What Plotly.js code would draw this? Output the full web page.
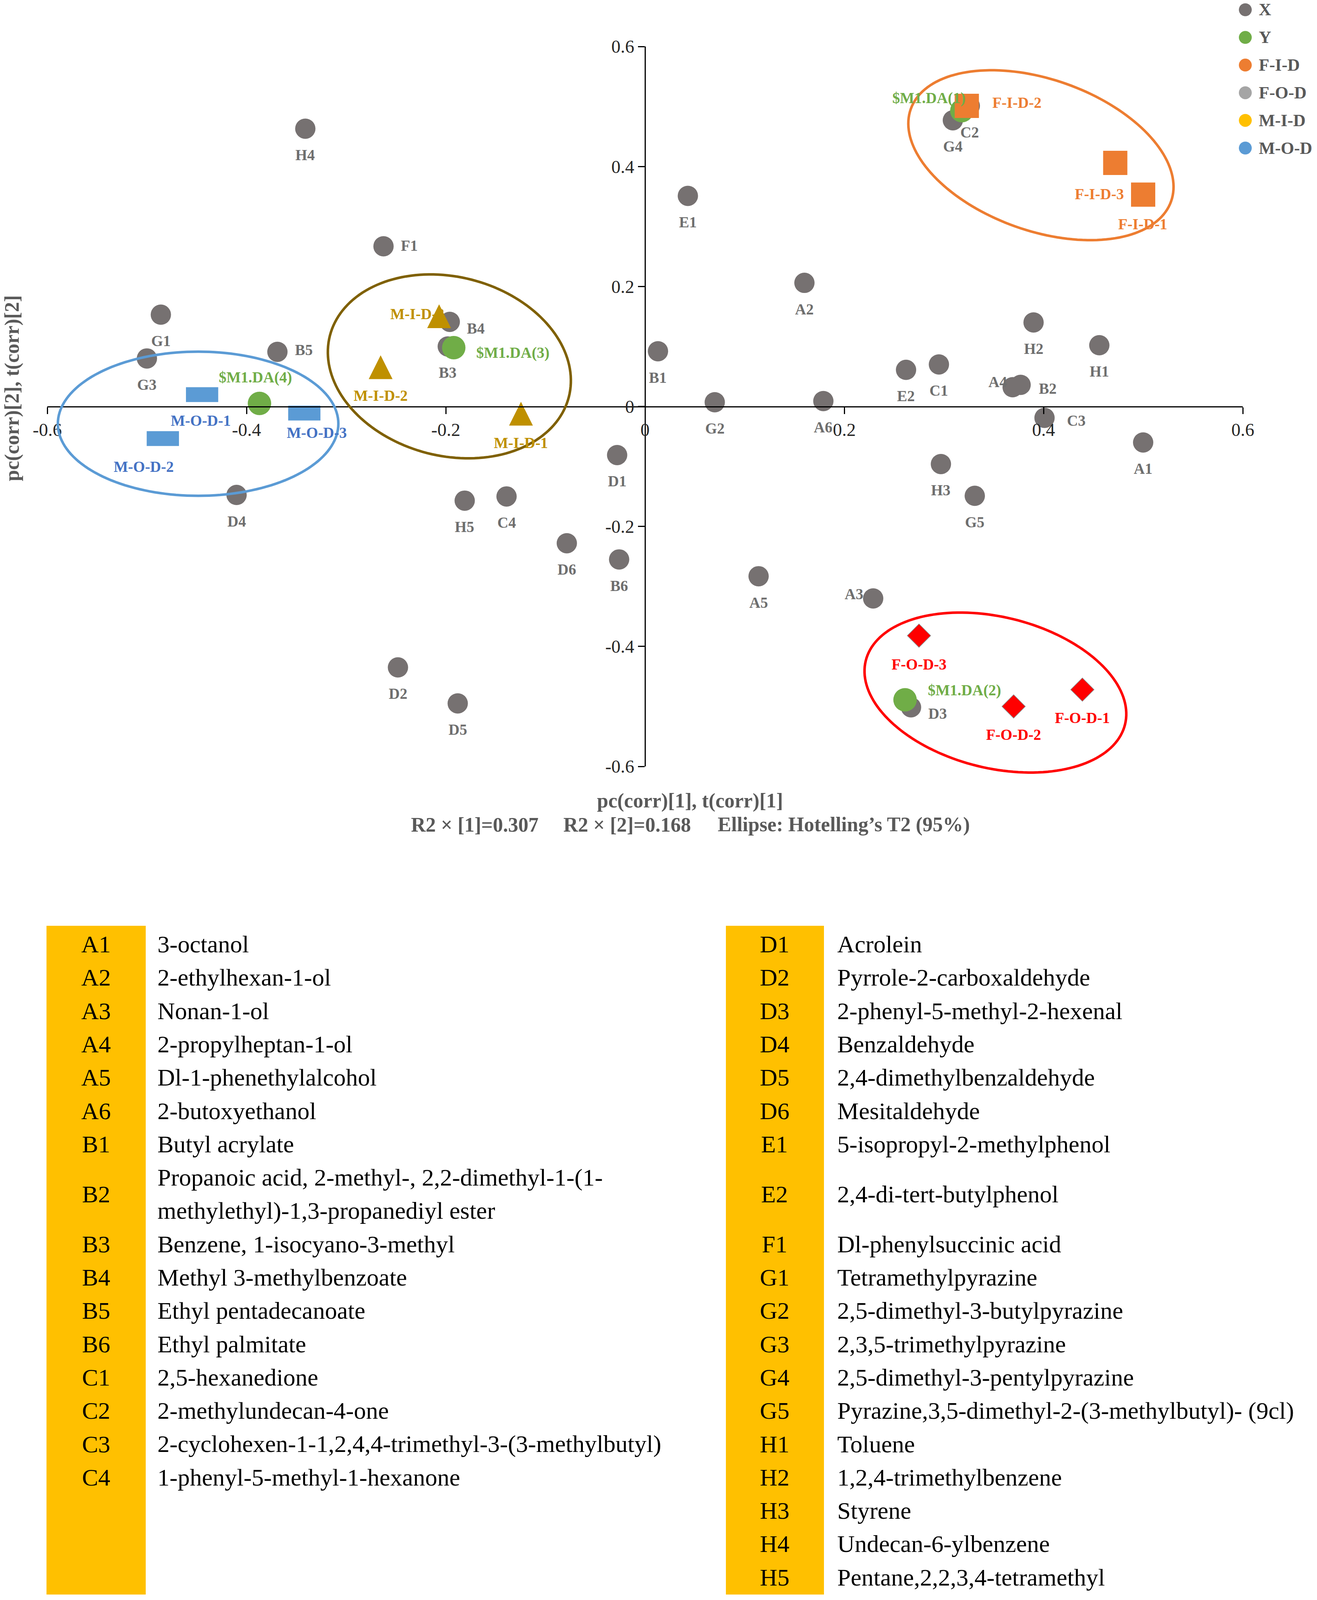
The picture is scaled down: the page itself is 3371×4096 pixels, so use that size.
<!DOCTYPE html>
<html>
<head>
<meta charset="utf-8">
<script src="https://cdn.plot.ly/plotly-3.0.1.min.js"></script>
<style>
html,body{margin:0;padding:0;background:#ffffff;overflow:hidden;}
#chart{width:3371px;height:4096px;}
</style>
</head>
<body>
<div id="chart"></div>
<script>
// ================= DATA =================
// X: compound loadings pc(corr)[1], pc(corr)[2]
const compoundCodes = ['A1','A2','A3','A4','A5','A6','B1','B2','B3','B4','B5','B6','C1','C2','C3','C4',
  'D1','D2','D3','D4','D5','D6','E1','E2','F1','G1','G2','G3','G4','G5','H1','H2','H3','H4','H5'];
const compoundPc1 = [0.500,0.160,0.229,0.369,0.114,0.179,0.013,0.377,-0.198,-0.196,-0.369,-0.026,0.295,0.326,0.401,-0.139,
  -0.028,-0.248,0.267,-0.410,-0.188,-0.0785,0.043,0.262,-0.2625,-0.486,0.070,-0.500,0.309,0.331,0.456,0.390,0.297,-0.341,-0.181];
const compoundPc2 = [-0.060,0.206,-0.320,0.032,-0.283,0.009,0.092,0.036,0.100,0.141,0.091,-0.255,0.070,0.501,-0.019,-0.150,
  -0.081,-0.435,-0.5015,-0.1475,-0.495,-0.228,0.351,0.061,0.267,0.153,0.007,0.080,0.477,-0.149,0.102,0.140,-0.096,0.463,-0.157];
// Y: class dummy variables
const modelNames = ['$M1.DA(1)','$M1.DA(2)','$M1.DA(3)','$M1.DA(4)'];
const modelPc1 = [0.318,0.261,-0.192,-0.387];
const modelPc2 = [0.493,-0.489,0.098,0.005];
// Sample scores t(corr)[1], t(corr)[2]
const fidNames = ['F-I-D-1','F-I-D-2','F-I-D-3'];
const fidT1 = [0.500,0.323,0.472];
const fidT2 = [0.353,0.501,0.406];
const fodNames = ['F-O-D-1','F-O-D-2','F-O-D-3'];
const fodT1 = [0.439,0.370,0.275];
const fodT2 = [-0.472,-0.500,-0.382];
const midNames = ['M-I-D-1','M-I-D-2','M-I-D-3'];
const midT1 = [-0.1245,-0.2654,-0.2067];
const midT2 = [-0.012,0.0654,0.1504];
const modNames = ['M-O-D-1','M-O-D-2','M-O-D-3'];
const modT1 = [-0.4446,-0.484,-0.342];
const modT2 = [0.0197,-0.0535,-0.011];
// Hotelling's T2 (95%) ellipse centres per group
const ellipseGroups = ['M-O-D','M-I-D','F-I-D','F-O-D'];
const ellipseT1 = [-0.4486,-0.1964,0.3974,0.3517];
const ellipseT2 = [-0.0288,0.0668,0.4188,-0.4769];
// Legend
const legendNames = ['X','Y','F-I-D','F-O-D','M-I-D','M-O-D'];
// Axes
const axisTickVals = [-0.6,-0.4,-0.2,0,0.2,0.4,0.6];
const axisTickText = ['-0.6','-0.4','-0.2','0','0.2','0.4','0.6'];
const xTitle = 'pc(corr)[1], t(corr)[1]';
const yTitle = 'pc(corr)[2], t(corr)[2]';
const statsText = ['R2 \u00d7 [1]=0.307','R2 \u00d7 [2]=0.168','Ellipse: Hotelling\u2019s T2 (95%)'];
// Compound key table
const tableCodesLeft = ['A1','A2','A3','A4','A5','A6','B1','B2','B3','B4','B5','B6','C1','C2','C3','C4'];
const tableNamesLeft = ['3-octanol','2-ethylhexan-1-ol','Nonan-1-ol','2-propylheptan-1-ol','Dl-1-phenethylalcohol',
  '2-butoxyethanol','Butyl acrylate','Propanoic acid, 2-methyl-, 2,2-dimethyl-1-(1-\nmethylethyl)-1,3-propanediyl ester',
  'Benzene, 1-isocyano-3-methyl','Methyl 3-methylbenzoate','Ethyl pentadecanoate','Ethyl palmitate','2,5-hexanedione',
  '2-methylundecan-4-one','2-cyclohexen-1-1,2,4,4-trimethyl-3-(3-methylbutyl)','1-phenyl-5-methyl-1-hexanone'];
const tableCodesRight = ['D1','D2','D3','D4','D5','D6','E1','E2','F1','G1','G2','G3','G4','G5','H1','H2','H3','H4','H5'];
const tableNamesRight = ['Acrolein','Pyrrole-2-carboxaldehyde','2-phenyl-5-methyl-2-hexenal','Benzaldehyde',
  '2,4-dimethylbenzaldehyde','Mesitaldehyde','5-isopropyl-2-methylphenol','2,4-di-tert-butylphenol',
  'Dl-phenylsuccinic acid','Tetramethylpyrazine','2,5-dimethyl-3-butylpyrazine','2,3,5-trimethylpyrazine',
  '2,5-dimethyl-3-pentylpyrazine','Pyrazine,3,5-dimethyl-2-(3-methylbutyl)- (9cl)','Toluene',
  '1,2,4-trimethylbenzene','Styrene','Undecan-6-ylbenzene','Pentane,2,2,3,4-tetramethyl'];

// ================= STYLE / LAYOUT =================
const W = 3371, H = 4096;
const M = {l:121, r:190, t:119, b:2134};
const plotW = W - M.l - M.r, plotH = H - M.t - M.b;
const RANGE = [-0.6, 0.6];
const FONT = 'Liberation Serif, Times New Roman, serif';
const C = {x:'#767171', y:'#70AD47', fid:'#ED7D31', fod:'#FF0000', fodLeg:'#A5A5A5', mid:'#BF9000', midLeg:'#FFC000',
  mod:'#5B9BD5', modText:'#4472C4', xText:'#6E6E6E', axisText:'#595959'};
const legendColors = [C.x, C.y, C.fid, C.fodLeg, C.midLeg, C.mod];
const ellipseStyle = {
  'M-O-D': {a:359, b:184.5, tilt:0, color:'#5B9BD5'},
  'M-I-D': {a:315.7, b:229.1, tilt:-14.4, color:'#7F6000'},
  'F-I-D': {a:353.5, b:193.8, tilt:-19.5, color:'#ED7D31'},
  'F-O-D': {a:341.7, b:193.4, tilt:-13.8, color:'#FF0000'}
};
// label offsets in px: [dx, dy(down), xanchor]
const DEF_OFF = [0, 67, 'center'];
const labelOffsets = {
  F1:[66,-2], B5:[68,-5], B4:[67,17], A4:[-38,-14], B2:[70,9], C3:[81,7], A3:[-49,-11], D3:[68,16],
  '$M1.DA(1)':[11,-32,'right'], '$M1.DA(2)':[56,-25,'left'], '$M1.DA(3)':[56,13,'left'], '$M1.DA(4)':[-11,-67],
  'F-I-D-1':[-1,75], 'F-I-D-2':[63,-9,'left'], 'F-I-D-3':[-41,80],
  'F-O-D-1':[0,72], 'F-O-D-2':[0,72], 'F-O-D-3':[0,73],
  'M-I-D-1':[0,75], 'M-I-D-2':[0,72], 'M-I-D-3':[16,-6,'right'],
  'M-O-D-1':[-3,66], 'M-O-D-2':[-49,72], 'M-O-D-3':[32,50]
};

function paperX(px){ return (px - M.l) / plotW; }
function paperY(py){ return (H - M.b - py) / plotH; }
function dataToPaperX(v){ return (v - RANGE[0]) / (RANGE[1] - RANGE[0]); }
function dataToPaperY(v){ return (v - RANGE[0]) / (RANGE[1] - RANGE[0]); }

// ================= TRACES =================
const traces = [
  {type:'scatter', mode:'markers', x:compoundPc1, y:compoundPc2, text:compoundCodes, cliponaxis:false,
   marker:{color:C.x, size:52, line:{width:0}}, hoverinfo:'text', showlegend:false},
  {type:'scatter', mode:'markers', x:modelPc1, y:modelPc2, text:modelNames, cliponaxis:false,
   marker:{color:C.y, size:60, line:{width:0}}, hoverinfo:'text', showlegend:false},
  {type:'scatter', mode:'markers', x:fidT1, y:fidT2, text:fidNames, cliponaxis:false,
   marker:{color:C.fid, size:62, symbol:'square', line:{width:0}}, hoverinfo:'text', showlegend:false},
  {type:'scatter', mode:'markers', x:fodT1, y:fodT2, text:fodNames, cliponaxis:false,
   marker:{color:C.fod, size:46, symbol:'diamond', line:{width:1.5, color:'#8a8a8a'}}, hoverinfo:'text', showlegend:false},
  {type:'scatter', mode:'markers', x:midT1, y:midT2, text:midNames, cliponaxis:false,
   marker:{color:C.mid, size:61, symbol:'arrow-down', angle:180, standoff:30.5, line:{width:0}}, hoverinfo:'text', showlegend:false},
  {type:'scatter', mode:'markers', x:modT1, y:modT2, text:modNames, cliponaxis:false,
   marker:{color:C.mod, size:59, symbol:'line-ew', line:{width:38, color:C.mod}}, hoverinfo:'text', showlegend:false}
];

// ================= SHAPES =================
const shapes = [];
ellipseGroups.forEach((g, i) => {
  const s = ellipseStyle[g];
  const th = s.tilt * Math.PI / 180;
  const cx = dataToPaperX(ellipseT1[i]), cy = dataToPaperY(ellipseT2[i]);
  let d = '';
  const N = 160;
  for (let k = 0; k <= N; k++) {
    const t = 2 * Math.PI * k / N;
    const ux = s.a * Math.cos(t) * Math.cos(th) - s.b * Math.sin(t) * Math.sin(th);
    const uy = s.a * Math.cos(t) * Math.sin(th) + s.b * Math.sin(t) * Math.cos(th);
    const X = cx + ux / plotW, Y = cy + uy / plotH;
    d += (k === 0 ? 'M' : 'L') + X.toFixed(5) + ',' + Y.toFixed(5);
  }
  d += 'Z';
  shapes.push({type:'path', xref:'paper', yref:'paper', path:d, layer:'above',
    line:{color:s.color, width:6.5}, fillcolor:'rgba(0,0,0,0)'});
});
// legend symbols
const legendX = 3187.5, legendTextX = 3220, legendY0 = 25, legendStep = 70.8, legendR = 16.5;
legendNames.forEach((n, i) => {
  const cy = legendY0 + i * legendStep;
  shapes.push({type:'circle', xref:'paper', yref:'paper', xsizemode:'pixel', ysizemode:'pixel',
    xanchor:paperX(legendX), yanchor:paperY(cy), x0:-legendR, x1:legendR, y0:-legendR, y1:legendR,
    fillcolor:legendColors[i], line:{width:0, color:'rgba(0,0,0,0)'}, layer:'above'});
});
// table colour bands
const tableTop = 2370, tableBottom = 4082;
[[119,373],[1858,2109]].forEach(b => {
  shapes.push({type:'rect', xref:'paper', yref:'paper', x0:paperX(b[0]), x1:paperX(b[1]),
    y0:paperY(tableBottom), y1:paperY(tableTop), fillcolor:'#FFC000', line:{width:0, color:'rgba(0,0,0,0)'}, layer:'below'});
});

// ================= ANNOTATIONS =================
const ann = [];
function addLabels(names, xs, ys, color){
  names.forEach((n, i) => {
    const o = labelOffsets[n] || DEF_OFF;
    ann.push({x:xs[i], y:ys[i], xref:'x', yref:'y', text:n, showarrow:false,
      xanchor:o[2] || 'center', yanchor:'middle', xshift:o[0], yshift:-o[1],
      font:{family:FONT, size:39, color:color, weight:'bold'}});
  });
}
addLabels(compoundCodes, compoundPc1, compoundPc2, C.xText);
addLabels(modelNames, modelPc1, modelPc2, C.y);
addLabels(fidNames, fidT1, fidT2, C.fid);
addLabels(fodNames, fodT1, fodT2, C.fod);
addLabels(midNames, midT1, midT2, C.mid);
addLabels(modNames, modT1, modT2, C.modText);

// legend texts
legendNames.forEach((n, i) => {
  ann.push({xref:'paper', yref:'paper', x:paperX(legendTextX), y:paperY(legendY0 + i * legendStep),
    text:n, showarrow:false, xanchor:'left', yanchor:'middle',
    font:{family:FONT, size:44, color:C.axisText, weight:'bold'}});
});

// axis titles & stats
ann.push({xref:'paper', yref:'paper', x:paperX(31), y:paperY(994), text:yTitle, textangle:-90, showarrow:false,
  xanchor:'center', yanchor:'middle', font:{family:FONT, size:52, color:C.axisText, weight:'bold'}});
ann.push({xref:'paper', yref:'paper', x:paperX(1766), y:paperY(2050), text:xTitle, showarrow:false,
  xanchor:'center', yanchor:'middle', font:{family:FONT, size:52, color:C.axisText, weight:'bold'}});
const statsX = [1215, 1605, 2160];
statsText.forEach((t, i) => {
  ann.push({xref:'paper', yref:'paper', x:paperX(statsX[i]), y:paperY(2111), text:t, showarrow:false,
    xanchor:'center', yanchor:'middle', font:{family:FONT, size:52, color:C.axisText, weight:'bold'}});
});

// table text
const rowY0 = 2417, rowStep = 85.3;
const colSpec = [
  {codes:tableCodesLeft, names:tableNamesLeft, codeX:246, nameX:401},
  {codes:tableCodesRight, names:tableNamesRight, codeX:1983, nameX:2141}
];
const nRows = Math.max(tableCodesLeft.length, tableCodesRight.length);
let slot = 0;
for (let r = 0; r < nRows; r++) {
  const lineSets = colSpec.map(c => (c.names[r] !== undefined ? c.names[r].split('\n') : []));
  const h = Math.max(1, ...lineSets.map(l => l.length));
  colSpec.forEach((c, ci) => {
    if (c.codes[r] === undefined) return;
    const lines = lineSets[ci];
    const mid = slot + (h - 1) / 2;
    ann.push({xref:'paper', yref:'paper', x:paperX(c.codeX), y:paperY(rowY0 + mid * rowStep), text:c.codes[r],
      showarrow:false, xanchor:'center', yanchor:'middle', font:{family:FONT, size:62, color:'#000000'}});
    const start = mid - (lines.length - 1) / 2;
    lines.forEach((ln, k) => {
      ann.push({xref:'paper', yref:'paper', x:paperX(c.nameX), y:paperY(rowY0 + (start + k) * rowStep), text:ln,
        showarrow:false, xanchor:'left', yanchor:'middle', font:{family:FONT, size:62, color:'#000000'}});
    });
  });
  slot += h;
}

// ================= LAYOUT =================
const axisCommon = {
  range:RANGE, anchor:'free', position:0.5, showline:true, linecolor:'#000000', linewidth:3,
  ticks:'outside', ticklen:17, tickwidth:3, tickcolor:'#000000',
  tickmode:'array', tickvals:axisTickVals, ticktext:axisTickText,
  tickfont:{family:FONT, size:47, color:'#262626'},
  showgrid:false, zeroline:false, fixedrange:true, automargin:false
};
const layout = {
  width:W, height:H, margin:M, paper_bgcolor:'#ffffff', plot_bgcolor:'rgba(0,0,0,0)',
  showlegend:false, hovermode:false,
  xaxis:Object.assign({}, axisCommon, {domain:[0,1]}),
  yaxis:Object.assign({}, axisCommon, {domain:[0,1]}),
  shapes:shapes, annotations:ann
};
Plotly.newPlot('chart', traces, layout, {displayModeBar:false, responsive:false});
</script>
</body>
</html>
